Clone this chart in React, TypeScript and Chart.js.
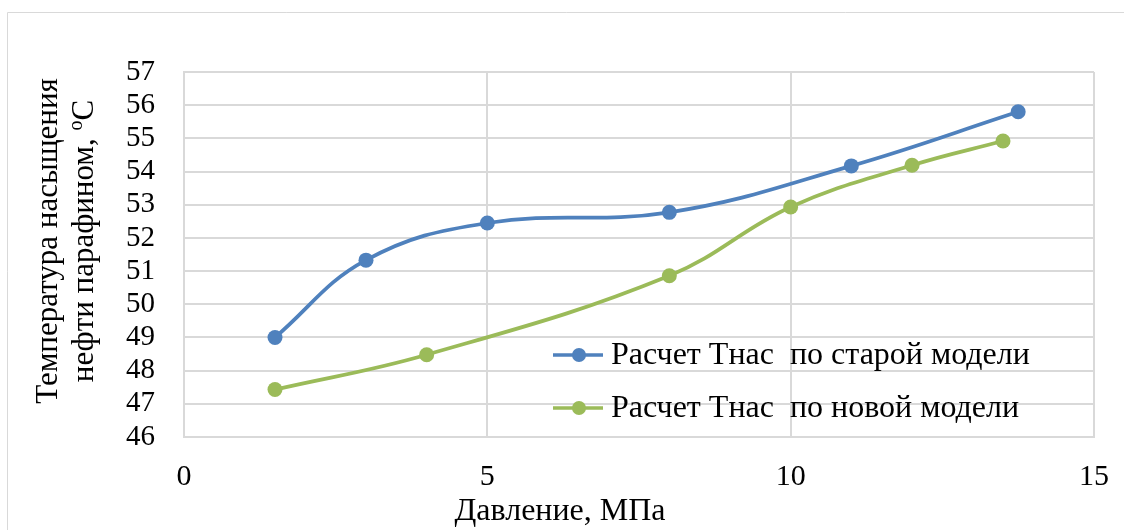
import React, { useEffect, useRef } from "react";
import { Chart, registerables } from "chart.js";

Chart.register(...registerables);

const seriesNames = ["Расчет Тнас  по старой модели", "Расчет Тнас  по новой модели"];
const oldX = [1.5, 3, 5, 8, 11, 13.75];
const oldY = [49.0, 51.33, 52.45, 52.77, 54.17, 55.8];
const newX = [1.5, 4, 8, 10, 12, 13.5];
const newY = [47.43, 48.48, 50.86, 52.93, 54.19, 54.92];
const xTitle = "Давление, МПа";
const yTitleLine1 = "Температура насыщения";
const yTitleLine2 = "нефти парафином, ";
const yTitleSup = "o";
const yTitleUnit = "С";
const colors = ["#4f81bd", "#9bbb59"];

const FONT = "'Liberation Serif', 'Times New Roman', serif";

const frame = {
  id: "frame",
  beforeDraw(chart: any) {
    const ctx = chart.ctx;
    ctx.save();
    ctx.strokeStyle = "#d9d9d9";
    ctx.lineWidth = 1;
    ctx.beginPath();
    ctx.moveTo(7.5, 540);
    ctx.lineTo(7.5, 12.5);
    ctx.lineTo(1130, 12.5);
    ctx.stroke();
    ctx.restore();
  },
};

const titlesPlugin = {
  id: "axisTitles",
  afterDraw(chart: any) {
    const ctx = chart.ctx;
    ctx.save();
    ctx.fillStyle = "#000";
    const big = `31px ${FONT}`;
    const small = `20px ${FONT}`;
    ctx.font = `32px ${FONT}`;
    ctx.textAlign = "center";
    ctx.textBaseline = "middle";
    ctx.fillText(xTitle, 560, 512);
    ctx.textBaseline = "alphabetic";
    ctx.textAlign = "left";
    const cy = 241;
    ctx.font = big;
    const w1 = ctx.measureText(yTitleLine1).width;
    ctx.save();
    ctx.translate(57, cy);
    ctx.rotate(-Math.PI / 2);
    ctx.fillText(yTitleLine1, -w1 / 2, 0);
    ctx.restore();
    ctx.font = big;
    const wa = ctx.measureText(yTitleLine2).width;
    const wc = ctx.measureText(yTitleUnit).width;
    ctx.font = small;
    const wb = ctx.measureText(yTitleSup).width;
    const total = wa + wb + wc;
    ctx.save();
    ctx.translate(93, cy);
    ctx.rotate(-Math.PI / 2);
    let x = -total / 2;
    ctx.font = big;
    ctx.fillText(yTitleLine2, x, 0);
    x += wa;
    ctx.font = small;
    ctx.fillText(yTitleSup, x, -11);
    x += wb;
    ctx.font = big;
    ctx.fillText(yTitleUnit, x, 0);
    ctx.restore();
    ctx.restore();
  },
};

const legendPlugin = {
  id: "customLegend",
  afterDraw(chart: any) {
    const ctx = chart.ctx;
    ctx.save();
    const rows = [355, 408];
    chart.data.datasets.forEach((ds: any, i: number) => {
      const y = rows[i];
      ctx.strokeStyle = ds.borderColor;
      ctx.lineWidth = 3.5;
      ctx.beginPath();
      ctx.moveTo(553, y);
      ctx.lineTo(603, y);
      ctx.stroke();
      ctx.fillStyle = ds.borderColor;
      ctx.beginPath();
      ctx.arc(579, y, 7, 0, Math.PI * 2);
      ctx.fill();
      ctx.fillStyle = "#000";
      ctx.font = `32px ${FONT}`;
      ctx.textBaseline = "middle";
      ctx.textAlign = "left";
      ctx.fillText(ds.label, 611, y + 1);
    });
    ctx.restore();
  },
};

export default function App() {
  const ref = useRef<HTMLCanvasElement>(null);
  useEffect(() => {
    document.body.style.margin = "0";
    const mk = (xs: number[], ys: number[]) => xs.map((x, i) => ({ x, y: ys[i] }));
    const common = {
      showLine: true,
      tension: 0.4,
      borderWidth: 3.75,
      pointRadius: 7.5,
      pointBorderWidth: 0,
    };
    const chart = new Chart(ref.current!, {
      type: "scatter",
      data: {
        datasets: [
          { label: seriesNames[0], data: mk(oldX, oldY), borderColor: colors[0], backgroundColor: colors[0], ...common },
          { label: seriesNames[1], data: mk(newX, newY), borderColor: colors[1], backgroundColor: colors[1], ...common },
        ],
      },
      options: {
        animation: false,
        responsive: false,
        maintainAspectRatio: false,
        layout: { padding: { top: 72, right: 30, left: 0, bottom: 0 } },
        plugins: { legend: { display: false }, tooltip: { enabled: false } },
        scales: {
          x: {
            type: "linear",
            min: 0,
            max: 15,
            ticks: { stepSize: 5, autoSkip: false, color: "#000", font: { family: FONT, size: 30 }, padding: 22, maxRotation: 0 },
            grid: { color: "#d9d9d9", lineWidth: 2, drawTicks: false },
            border: { color: "#d9d9d9", width: 2 },
            afterFit(scale: any) {
              scale.height = 93;
              scale.paddingLeft = 0;
              scale.paddingRight = 0;
            },
          },
          y: {
            min: 46,
            max: 57,
            ticks: { stepSize: 1, autoSkip: false, color: "#000", font: { family: FONT, size: 29 }, padding: 29 },
            grid: { color: "#d9d9d9", lineWidth: 2, drawTicks: false },
            border: { color: "#d9d9d9", width: 2 },
            afterFit(scale: any) {
              scale.width = 184;
              scale.paddingTop = 0;
              scale.paddingBottom = 0;
            },
          },
        },
      },
      plugins: [frame, titlesPlugin, legendPlugin],
    } as any);
    return () => chart.destroy();
  }, []);
  return (
    <div style={{ position: "absolute", left: 0, top: 0, width: 1124, height: 530 }}>
      <canvas ref={ref} width={1124} height={530} style={{ width: 1124, height: 530 }} />
    </div>
  );
}
